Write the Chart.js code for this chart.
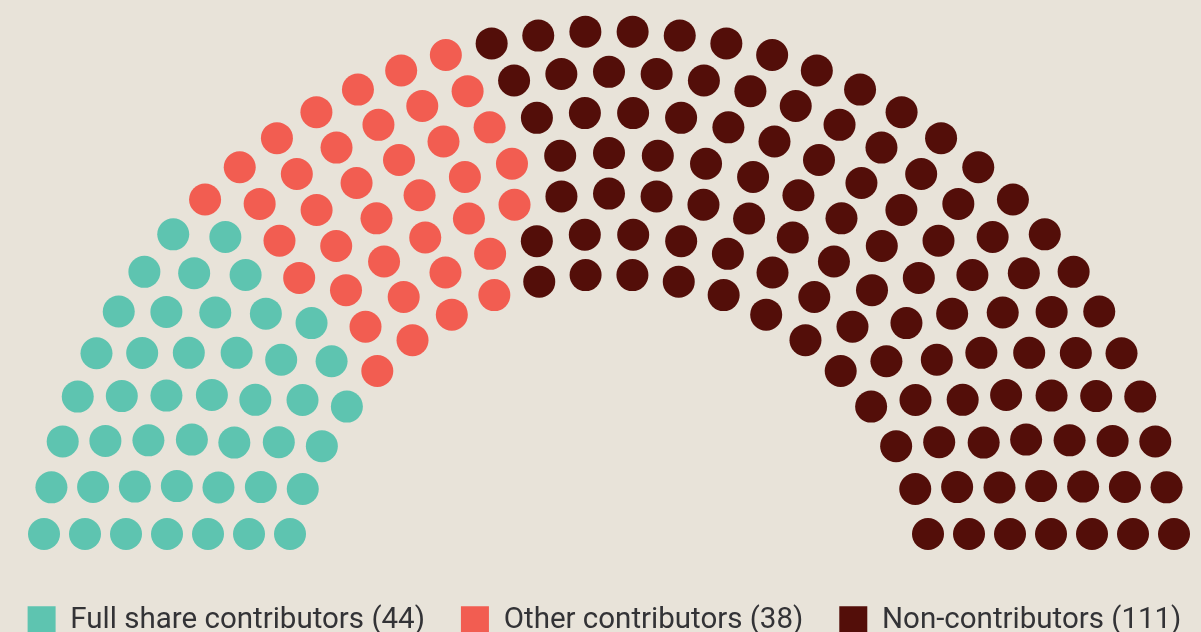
<!DOCTYPE html>
<html><head><meta charset="utf-8">
<script src="https://cdn.jsdelivr.net/npm/chart.js@4/dist/chart.umd.min.js"></script>
<style>
html,body{margin:0;padding:0;background:#E8E3D9;overflow:hidden;width:1201px;height:632px}
#wrap{position:relative;width:1201px;height:632px;overflow:hidden}
canvas{display:block;margin-left:-26px}
</style></head><body>
<div id="wrap"><canvas id="c" width="1261" height="645"></canvas></div>
<script>
// ---- data ----
const categories = ["Full share contributors", "Other contributors", "Non-contributors"];
const seatCounts = [44, 38, 111];
const colors = ["#5EC4B0", "#F25D51", "#530E09"];

// ---- hemicycle layout (derived from counts) ----
const RINGS = 7, INNER = 319, STEP = 41, BASE = 66, CX = 609, CY = 600, OFFSET = 26;
const total = seatCounts.reduce((a, b) => a + b, 0);
const rings = [];
for (let i = 0; i < RINGS; i++) {
  const dx = INNER + STEP * i;
  const r = Math.hypot(dx, BASE);
  const a0 = Math.asin(BASE / r);
  rings.push({ r, a0, span: Math.PI - 2 * a0 });
}
const arcSum = rings.reduce((s, g) => s + g.r * g.span, 0);
const spacing = arcSum / (total - RINGS);
const raw = rings.map(g => g.r * g.span / spacing + 1);
const counts = raw.map(Math.floor);
let left = total - counts.reduce((a, b) => a + b, 0);
raw.map((v, i) => [v - Math.floor(v), i]).sort((a, b) => b[0] - a[0]).forEach(([f, i]) => { if (left > 0) { counts[i]++; left--; } });

const allSeats = [];
rings.forEach((g, i) => {
  const n = counts[i];
  for (let k = 0; k < n; k++) {
    const t = g.a0 + k * g.span / (n - 1);
    allSeats.push({ t, r: g.r, x: g.r * Math.cos(t), y: g.r * Math.sin(t) });
  }
});
allSeats.sort((a, b) => (b.t - a.t) || (a.r - b.r));

const datasets = [];
let idx = 0;
categories.forEach((name, c) => {
  const pts = allSeats.slice(idx, idx + seatCounts[c]).map(s => ({ x: s.x, y: s.y }));
  idx += seatCounts[c];
  datasets.push({
    label: name + " (" + seatCounts[c] + ")",
    data: pts,
    backgroundColor: colors[c],
    borderColor: colors[c],
    pointRadius: 16,
    pointHoverRadius: 16,
    borderWidth: 0,
    clip: false
  });
});

const chart = new Chart(document.getElementById('c'), {
  type: 'scatter',
  data: { datasets },
  options: {
    responsive: false,
    animation: false,
    layout: { padding: 0 },
    plugins: {
      legend: {
        position: 'bottom',
        labels: {
          boxWidth: 28, boxHeight: 28, padding: 36, color: '#333336',
          font: { family: 'Roboto', size: 29.5 }
        }
      },
      tooltip: { enabled: false }
    },
    events: [],
    scales: {
      x: { type: 'linear', display: false, min: -CX, max: 1201 - CX },
      y: { type: 'linear', display: false, min: 0, max: 600 }
    }
  }
});
const ca = chart.chartArea;
chart.options.scales.x.min = ca.left - OFFSET - CX;
chart.options.scales.x.max = ca.right - OFFSET - CX;
chart.options.scales.y.max = CY - ca.top;
chart.options.scales.y.min = CY - ca.bottom;
chart.update('none');
</script>
</body></html>
